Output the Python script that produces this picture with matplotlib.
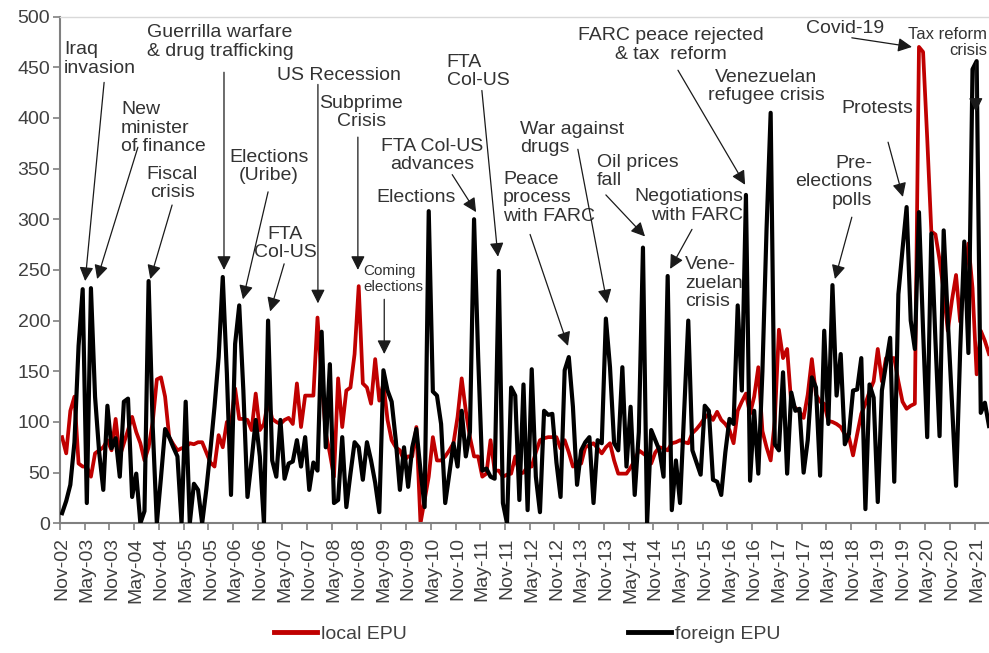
import matplotlib
matplotlib.use('Agg')
import matplotlib.pyplot as plt
from matplotlib.lines import Line2D
import numpy as np
import pandas as pd

plt.rcParams['font.family'] = ['Liberation Sans', 'DejaVu Sans']

months = pd.date_range('2002-11-01', periods=226, freq='MS')

local_epu = [
    85, 69, 111, 125, 59, 56, 56, 46, 69, 72,
    75, 82, 72, 103, 66, 79, 92, 105, 90, 79,
    62, 75, 100, 142, 144, 125, 85, 78, 72, 74,
    75, 79, 78, 80, 80, 70, 60, 56, 87, 75,
    100, 98, 133, 103, 103, 102, 92, 128, 92, 98,
    121, 103, 100, 98, 102, 104, 98, 138, 95, 126,
    126, 126, 203, 141, 89, 69, 46, 143, 95, 131,
    134, 167, 234, 138, 134, 118, 162, 121, 138, 102,
    82, 75, 72, 62, 66, 66, 95, 0, 23, 46,
    85, 62, 62, 66, 72, 79, 105, 143, 111, 85,
    66, 66, 46, 49, 82, 52, 52, 46, 48, 49,
    66, 49, 50, 56, 56, 70, 82, 84, 85, 85,
    85, 74, 82, 70, 56, 58, 59, 75, 77, 79,
    74, 69, 75, 79, 62, 49, 49, 49, 55, 62,
    72, 69, 66, 59, 70, 75, 74, 72, 79, 80,
    82, 80, 79, 89, 93, 98, 104, 108, 102, 110,
    102, 98, 92, 79, 111, 120, 128, 108, 125, 154,
    91, 75, 62, 101, 191, 163, 172, 118, 114, 110,
    104, 127, 162, 127, 120, 118, 101, 100, 98, 95,
    88, 85, 67, 88, 108, 118, 130, 140, 172, 140,
    163, 163, 163, 140, 120, 113, 116, 118, 470, 465,
    380, 288, 285, 260, 229, 190, 220, 245, 199, 240,
    276, 232, 147, 190, 180, 167,
]

foreign_epu = [
    10, 22, 38, 80, 175, 231, 20, 232, 125, 70,
    33, 116, 74, 84, 46, 120, 123, 26, 49, 0,
    12, 239, 95, 0, 45, 93, 85, 75, 66, 0,
    120, 0, 39, 33, 0, 33, 72, 115, 164, 243,
    148, 28, 177, 215, 131, 26, 62, 102, 66, 0,
    200, 62, 46, 102, 44, 59, 61, 82, 56, 85,
    33, 60, 52, 189, 75, 157, 20, 23, 85, 16,
    49, 80, 75, 43, 80, 62, 40, 11, 151, 131,
    120, 82, 33, 75, 36, 75, 93, 52, 16, 308,
    130, 126, 98, 20, 49, 79, 56, 111, 66, 90,
    300, 164, 52, 54, 46, 44, 249, 20, 0, 134,
    126, 23, 137, 13, 152, 46, 11, 111, 107, 108,
    60, 26, 151, 164, 115, 38, 72, 80, 85, 20,
    82, 79, 202, 154, 79, 72, 154, 56, 115, 28,
    90, 272, 0, 92, 82, 72, 46, 244, 13, 62,
    20, 110, 200, 72, 60, 48, 116, 111, 43, 41,
    28, 70, 103, 98, 215, 131, 324, 42, 111, 49,
    150, 290, 405, 78, 72, 149, 49, 129, 111, 113,
    50, 82, 144, 134, 47, 190, 98, 235, 126, 167,
    78, 88, 131, 132, 163, 14, 137, 124, 21, 131,
    157, 183, 41, 226, 270, 312, 200, 172, 307, 190,
    85, 286, 180, 86, 289, 200, 120, 37, 170, 278,
    168, 448, 456, 109, 119, 96,
]

tick_idx = list(range(0, len(months), 6))
tick_labels = [months[i].strftime('%b-%y') for i in tick_idx]

# events: text, text position, alignment, size, arrow tail, arrow tip
events = [
    ("Iraq\ninvasion", (0.5, 458), 'left', 14, (10.2, 435), (5.6, 239)),
    ("New\nminister\nof finance", (14.3, 390), 'left', 14, (18.4, 371), (8.5, 241)),
    ("Fiscal\ncrisis", (26.7, 335), 'center', 14, (26.7, 314), (21.4, 241)),
    ("Guerrilla warfare\n& drug trafficking", (20.6, 475), 'left', 14, (39.3, 445), (39.3, 250)),
    ("Elections\n(Uribe)", (50.2, 352), 'center', 14, (50.0, 327), (43.9, 221)),
    ("FTA\nCol-US", (54.1, 276), 'center', 14, (53.9, 256), (50.5, 209)),
    ("US Recession", (52.2, 442), 'left', 14, (62.1, 433), (62.1, 217)),
    ("Subprime\nCrisis", (72.6, 405), 'center', 14, (71.8, 381), (71.8, 250)),
    ("Coming\nelections", (73.1, 241), 'left', 11, (78.2, 221), (78.2, 167)),
    ("Elections", (85.9, 321), 'center', 14, None, None),
    ("FTA Col-US\nadvances", (89.8, 363), 'center', 14, (94.7, 344), (100.5, 307)),
    ("FTA\nCol-US", (93.4, 446), 'left', 14, (101.9, 427), (105.8, 263)),
    ("Peace\nprocess\nwith FARC", (107.0, 321), 'left', 14, (113.6, 285), (122.8, 175)),
    ("War against\ndrugs", (111.2, 380), 'left', 14, (125.2, 369), (132.3, 217)),
    ("Oil prices\nfall", (129.9, 347), 'left', 14, (132.0, 324), (141.5, 283)),
    ("Negotiations\nwith FARC", (165.3, 313), 'right', 14, (152.9, 290), (147.6, 251)),
    ("Vene-\nzuelan\ncrisis", (151.2, 237), 'left', 14, None, None),
    ("FARC peace rejected\n& tax  reform", (147.8, 472), 'center', 14, (149.5, 447), (165.8, 334)),
    ("Venezuelan\nrefugee crisis", (170.9, 431), 'center', 14, None, None),
    ("Covid-19", (190.0, 488), 'center', 14, (191.7, 479), (206.3, 470)),
    ("Tax reform\ncrisis", (224.6, 474), 'right', 12, (221.8, 455), (221.8, 406)),
    ("Protests", (197.8, 409), 'center', 14, (200.5, 376), (204.1, 322)),
    ("Pre-\nelections\npolls", (196.6, 337), 'right', 14, (191.7, 302), (187.6, 241)),
]

x = np.arange(len(months))

fig = plt.figure(figsize=(9.89, 6.53), dpi=100)
ax = fig.add_axes([0.0607, 0.1986, 0.9393, 0.7761])

ax.plot(x, local_epu, color='#C00000', lw=2.7, zorder=2)
ax.plot(x, foreign_epu, color='black', lw=3.0, zorder=3)

ax.set_xlim(-0.5, 225.0)
ax.set_ylim(0, 500)
ax.set_yticks(range(0, 501, 50))

ax.set_xticks(np.array(tick_idx) - 0.5)
ax.set_xticklabels([])
ax.set_xticks(tick_idx, minor=True)
ax.set_xticklabels(tick_labels, minor=True, rotation=90)
ax.tick_params(axis='x', which='major', length=5, width=1.2, color='#808080')
ax.tick_params(axis='x', which='minor', length=0, pad=10, labelsize=14, labelcolor='#404040')
ax.tick_params(axis='y', length=5, width=1.2, color='#808080', labelsize=14,
               labelcolor='#404040', pad=2)

ax.spines['right'].set_visible(False)
ax.spines['top'].set_color('#d9d9d9')
ax.spines['top'].set_linewidth(1.0)
for s in ['left', 'bottom']:
    ax.spines[s].set_color('#808080')
    ax.spines[s].set_linewidth(1.5)

for txt, pos, ha, fs, tail, tip in events:
    ax.text(pos[0], pos[1], txt, ha=ha, va='center', fontsize=fs, color='#333333',
            linespacing=1.1, zorder=5, clip_on=False)
    if tail is not None:
        ax.annotate('', xy=tip, xytext=tail,
                    arrowprops=dict(arrowstyle='-|>,head_length=0.6,head_width=0.3',
                                    color='#1a1a1a', lw=0.9, mutation_scale=14,
                                    shrinkA=0, shrinkB=0), zorder=6)

handles = [Line2D([], [], color='#C00000', lw=3.5),
           Line2D([], [], color='black', lw=3.5)]
leg = fig.legend(handles, ['local EPU', 'foreign EPU'], loc='center',
                 bbox_to_anchor=(0.533, 0.029), ncol=2, frameon=False, fontsize=14,
                 handlelength=2.2, handletextpad=0.2, columnspacing=11.4)
for t in leg.get_texts():
    t.set_color('#404040')

fig.savefig('out.png', dpi=100)
